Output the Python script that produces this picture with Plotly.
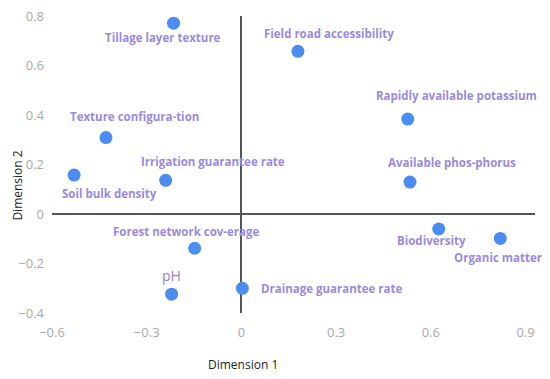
import plotly.graph_objects as go

labels = ["Tillage layer texture", "Field road accessibility", "Rapidly available potassium",
          "Available phos-phorus", "Texture configura-tion", "Irrigation guarantee rate",
          "Soil bulk density", "Forest network cov-erage", "pH", "Drainage guarantee rate",
          "Biodiversity", "Organic matter"]
dim1 = [-0.215, 0.179, 0.527, 0.534, -0.429, -0.240, -0.530, -0.148, -0.221, 0.003, 0.625, 0.820]
dim2 = [0.773, 0.659, 0.385, 0.130, 0.310, 0.137, 0.158, -0.138, -0.324, -0.300, -0.060, -0.098]

x_ticks = [-0.6, -0.3, 0, 0.3, 0.6, 0.9]
x_ticktext = ["\u22120.6", "\u22120.3", "0", "0.3", "0.6", "0.9"]
y_ticks = [-0.4, -0.2, 0, 0.2, 0.4, 0.6, 0.8]
y_ticktext = ["\u22120.4", "\u22120.2", "0", "0.2", "0.4", "0.6", "0.8"]

# label offsets (pixels): xshift, yshift, xanchor
offsets = [(-11, -14, "center"), (31, 18, "center"), (49, 24, "center"), (42, 20, "center"),
           (29, 21, "center"), (47, 19, "center"), (35, -18, "center"), (-8, 17, "center"),
           (0, 19, "center"), (17, 0, "left"), (-7, -12, "center"), (-2, -19, "center")]

fig = go.Figure()
fig.add_trace(go.Scatter(x=dim1, y=dim2, mode="markers",
                         marker=dict(size=13, color="#4a8cf0"), hoverinfo="text", text=labels))

label_color = "#9a8ae0"
for lab, xv, yv, (dx, dy, xa) in zip(labels, dim1, dim2, offsets):
    if lab == "pH":
        font = dict(family="Open Sans", size=14, color="#8f80d8")
    else:
        font = dict(family="Open Sans", size=11.5, color=label_color, weight="bold")
    fig.add_annotation(x=xv, y=yv, text=lab, showarrow=False, xshift=dx, yshift=dy,
                       xanchor=xa, yanchor="middle", font=font)

fig.add_annotation(xref="paper", yref="paper", x=0.395, y=-0.175, text="Dimension 1",
                   showarrow=False, xanchor="center", yanchor="middle",
                   font=dict(family="Open Sans", size=12, color="#222"))
fig.add_annotation(xref="paper", yref="paper", x=-0.071, y=0.428, text="Dimension 2",
                   showarrow=False, xanchor="center", yanchor="middle", textangle=-90,
                   borderpad=0,
                   font=dict(family="Open Sans", size=12, color="#222"))

fig.update_layout(
    width=542, height=371,
    margin=dict(l=44, r=15, t=8, b=66, autoexpand=False),
    plot_bgcolor="white", paper_bgcolor="white",
    showlegend=False,
    xaxis=dict(range=[-0.6, 0.93], tickvals=x_ticks, ticktext=x_ticktext, showgrid=False,
               zeroline=True, zerolinecolor="#555", zerolinewidth=1.5, showline=False,
               automargin=False, ticklabelstandoff=10,
               tickfont=dict(family="Open Sans", size=13, color="#aaaaaa"), ticks=""),
    yaxis=dict(range=[-0.4, 0.802], tickvals=y_ticks, ticktext=y_ticktext, showgrid=False,
               zeroline=True, zerolinecolor="#555", zerolinewidth=1.5, showline=False,
               automargin=False, ticklabelstandoff=7, ticklabeloverflow="allow",
               tickfont=dict(family="Open Sans", size=13, color="#aaaaaa"), ticks=""),
)

fig.write_html("out.html")
